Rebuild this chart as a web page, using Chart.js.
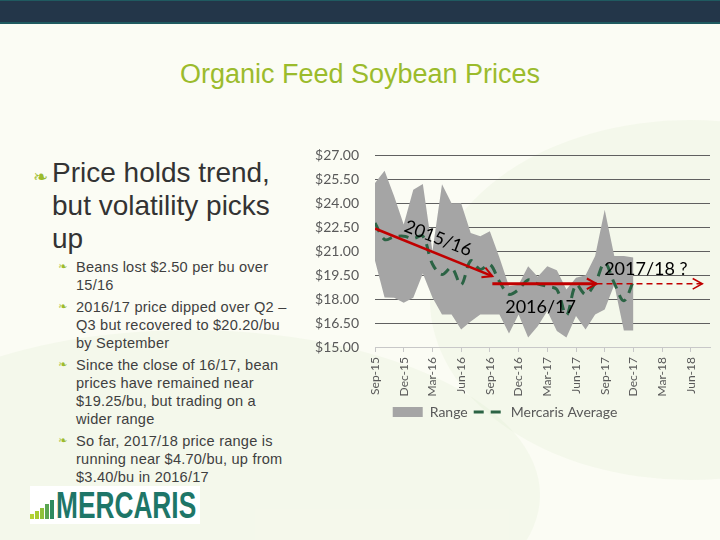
<!DOCTYPE html>
<html>
<head>
<meta charset="utf-8">
<script src="https://cdn.jsdelivr.net/npm/chart.js@4.4.0/dist/chart.umd.min.js"></script>
<style>
    body {
        margin: 0;
        width: 720px;
        height: 540px;
        overflow: hidden;
        position: relative;
        background: #fbfcf4;
        font-family: "Liberation Sans", Arial, sans-serif;
    }
    .swoosh {
        position: absolute;
        border-radius: 50%;
        background: rgba(214, 230, 190, 0.16);
    }
    .top-bar {
        position: absolute;
        left: 0; top: 0;
        width: 720px; height: 21px;
        background: #233649;
        border-top: 1px solid #1f5a60;
        border-bottom: 2px solid #1f5a60;
    }
    .title {
        position: absolute;
        left: 0; top: 59px;
        width: 720px;
        text-align: center;
        font-size: 27px;
        color: #9bbb2c;
    }
    .heading {
        position: absolute;
        left: 52px; top: 156px;
        width: 250px;
        font-size: 28px;
        line-height: 33px;
        color: #333333;
    }
    .bullet {
        position: absolute;
        color: #9bbb2c;
        font-family: "DejaVu Sans", sans-serif;
    }
    .points {
        position: absolute;
        left: 76px; top: 258px;
        width: 216px;
        font-size: 14.6px;
        line-height: 18px;
        letter-spacing: 0.2px;
        color: #3f3f3f;
    }
    .points p {
        margin: 0 0 4px 0;
        position: relative;
    }
    .points .bullet {
        left: -18px; top: 0;
        font-size: 11px;
    }
    .logo {
        position: absolute;
        left: 30px; top: 486px;
        width: 170px; height: 38px;
        background: #ffffff;
    }
    .logo .bar {
        position: absolute;
        bottom: 5px;
        width: 4px;
    }
    .logo .word {
        position: absolute;
        left: 26px; top: -1px;
        font-weight: bold;
        font-size: 36px;
        color: #1e7668;
        transform-origin: left top;
        transform: scaleX(0.73);
        white-space: nowrap;
    }
    .chart-box {
        position: absolute;
        left: 300px; top: 131px;
        width: 420px; height: 299px;
    }
</style>
</head>
<body>
<div class="swoosh" style="left:-160px; top:330px; width:700px; height:330px;"></div>
<div class="swoosh" style="left:430px; top:120px; width:520px; height:360px;"></div>
<div class="top-bar"></div>
<div class="title">Organic Feed Soybean Prices</div>

<div class="heading">
    <span class="bullet" style="left:-19px; top:4px; font-size:18px;">❧</span>
    Price holds trend, but volatility picks up
</div>

<div class="points">
    <p><span class="bullet">❧</span>Beans lost $2.50 per bu over 15/16</p>
    <p><span class="bullet">❧</span>2016/17 price dipped over Q2 – Q3 but recovered to $20.20/bu by September</p>
    <p><span class="bullet">❧</span>Since the close of 16/17, bean prices have remained near $19.25/bu, but trading on a wider range</p>
    <p><span class="bullet">❧</span>So far, 2017/18 price range is running near $4.70/bu, up from $3.40/bu in 2016/17</p>
</div>

<div class="logo">
    <div class="bar" style="left:0px; height:5px; background:#b5d334;"></div>
    <div class="bar" style="left:5px; height:8px; background:#a6cc30;"></div>
    <div class="bar" style="left:10px; height:11px; background:#8fc13a;"></div>
    <div class="bar" style="left:15px; height:15px; background:#5aa552;"></div>
    <div class="bar" style="left:20px; height:19px; background:#2f8a60;"></div>
    <div class="word">MERCARIS</div>
</div>

<div class="chart-box">
    <canvas id="soybean-chart"></canvas>
</div>

<script>
const months = ['Sep-15', 'Oct-15', 'Nov-15', 'Dec-15', 'Jan-16', 'Feb-16', 'Mar-16', 'Apr-16', 'May-16', 'Jun-16', 'Jul-16', 'Aug-16',
    'Sep-16', 'Oct-16', 'Nov-16', 'Dec-16', 'Jan-17', 'Feb-17', 'Mar-17', 'Apr-17', 'May-17', 'Jun-17', 'Jul-17', 'Aug-17',
    'Sep-17', 'Oct-17', 'Nov-17', 'Dec-17', 'Jan-18', 'Feb-18', 'Mar-18', 'Apr-18', 'May-18', 'Jun-18', 'Jul-18', 'Aug-18'];

// monthly range and average, Sep-15 .. Dec-17 ($/bu)
const rangeHigh = [25.27, 26.04, 24.44, 22.67, 24.85, 25.21, 21.0, 25.2, 24.0, 24.0, 22.14, 21.94, 22.25, 20.6,
    18.8, 18.9, 20.06, 19.4, 20.06, 19.8, 18.6, 19.33, 19.5, 20.7, 23.6, 20.7, 20.7, 20.6];
const rangeLow = [20.4, 18.1, 18.08, 17.77, 18.08, 19.6, 18.1, 17.04, 17.04, 16.1, 16.6, 17.04, 17.04, 17.04,
    15.84, 17.04, 15.6, 16.3, 17.25, 16.0, 15.6, 16.94, 16.1, 17.04, 17.35, 18.9, 16.04, 16.04];
const mercarisAverage = [22.77, 21.73, 21.9, 21.94, 21.8, 21.94, 20.2, 19.54, 19.96, 18.9, 20.4, 19.85, 20.17, 19.1,
    18.3, 18.6, 19.2, 18.95, 18.8, 18.6, 17.0, 18.9, 18.3, 19.0, 20.27, 19.0, 17.9, 19.13];

const priceTicks = [15, 16.5, 18, 19.5, 21, 22.5, 24, 25.5, 27];
const monthTicks = [0, 3, 6, 9, 12, 15, 18, 21, 24, 27, 30, 33];

// trend arrows: [month index, price]
const trend1516 = [[0, 22.42], [12.26, 19.44]];
const trend1617 = [[12.26, 18.96], [23.14, 18.96]];
const trend1718 = [[23.14, 18.96], [34.2, 18.96]];
const seasonLabels = ['2015/16', '2016/17', '2017/18 ?'];

function toPoints(values) {
    return values.map((v, i) => ({ x: i, y: v }));
}

function toXY(pairs) {
    return pairs.map((p) => ({ x: p[0], y: p[1] }));
}

const arrowHeads = {
    id: 'arrowHeads',
    afterDatasetsDraw(chart) {
        const ctx = chart.ctx;
        chart.data.datasets.forEach((ds, i) => {
            if (!ds.arrow) return;
            const pts = chart.getDatasetMeta(i).data;
            const a = pts[pts.length - 2];
            const b = pts[pts.length - 1];
            const ang = Math.atan2(b.y - a.y, b.x - a.x);
            ctx.save();
            ctx.strokeStyle = ds.borderColor;
            ctx.lineWidth = ds.headWidth;
            ctx.beginPath();
            ctx.moveTo(b.x - 11 * Math.cos(ang - 0.5), b.y - 11 * Math.sin(ang - 0.5));
            ctx.lineTo(b.x, b.y);
            ctx.lineTo(b.x - 11 * Math.cos(ang + 0.5), b.y - 11 * Math.sin(ang + 0.5));
            ctx.stroke();
            ctx.restore();
        });

        const x = chart.scales.x;
        const y = chart.scales.y;
        const spots = [
            { x: 6.6, y: 21.8, rot: 0.37 },
            { x: 17.3, y: 17.5, rot: 0 },
            { x: 28.3, y: 19.9, rot: 0 }
        ];
        ctx.save();
        ctx.fillStyle = '#000000';
        ctx.font = '18px Lato';
        ctx.textAlign = 'center';
        ctx.textBaseline = 'middle';
        seasonLabels.forEach((text, i) => {
            ctx.save();
            ctx.translate(x.getPixelForValue(spots[i].x), y.getPixelForValue(spots[i].y));
            ctx.rotate(spots[i].rot);
            ctx.fillText(text, 0, 0);
            ctx.restore();
        });
        ctx.restore();
    }
};

const GRAY = '#a5a5a5';
const GREEN = '#2b6344';
const RED = '#c00000';

new Chart(document.getElementById('soybean-chart').getContext('2d'), {
    type: 'line',
    data: {
        datasets: [
            {
                label: 'Range',
                data: toPoints(rangeHigh),
                borderWidth: 0,
                backgroundColor: GRAY,
                fill: '+1',
                pointRadius: 0,
                tension: 0,
                order: 10
            },
            {
                label: 'Range low',
                data: toPoints(rangeLow),
                borderWidth: 0,
                backgroundColor: GRAY,
                fill: false,
                pointRadius: 0,
                tension: 0,
                order: 10
            },
            {
                label: 'Mercaris Average',
                data: toPoints(mercarisAverage),
                borderColor: GREEN,
                borderWidth: 3,
                borderDash: [10, 7],
                fill: false,
                pointRadius: 0,
                tension: 0.35,
                order: 5
            },
            {
                label: 'trend 15/16',
                data: toXY(trend1516),
                borderColor: RED,
                borderWidth: 2.5,
                headWidth: 2,
                arrow: true,
                fill: false,
                pointRadius: 0,
                order: 1
            },
            {
                label: 'trend 16/17',
                data: toXY(trend1617),
                borderColor: RED,
                borderWidth: 3,
                headWidth: 2,
                arrow: true,
                fill: false,
                pointRadius: 0,
                order: 1
            },
            {
                label: 'trend 17/18',
                data: toXY(trend1718),
                borderColor: RED,
                borderWidth: 1.5,
                borderDash: [6, 4],
                headWidth: 1.5,
                arrow: true,
                fill: false,
                pointRadius: 0,
                order: 1
            }
        ]
    },
    options: {
        responsive: true,
        maintainAspectRatio: false,
        animation: false,
        layout: {
            padding: { top: 0, right: 10, bottom: 1, left: 0 }
        },
        scales: {
            x: {
                type: 'linear',
                min: 0,
                max: 35,
                afterBuildTicks: (scale) => {
                    scale.ticks = monthTicks.map((v) => ({ value: v }));
                },
                afterFit: (scale) => {
                    scale.height = 52;
                },
                grid: {
                    drawOnChartArea: false,
                    drawTicks: true,
                    tickLength: 5,
                    color: '#c8c8c8'
                },
                border: {
                    display: true,
                    color: '#c8c8c8'
                },
                ticks: {
                    autoSkip: false,
                    minRotation: 90,
                    maxRotation: 90,
                    padding: 5,
                    color: '#595959',
                    font: { family: 'Lato', size: 12 },
                    callback: (value) => months[value]
                }
            },
            y: {
                min: 15,
                max: 27,
                afterBuildTicks: (scale) => {
                    scale.ticks = priceTicks.map((v) => ({ value: v }));
                },
                afterFit: (scale) => {
                    scale.width = 75;
                },
                grid: {
                    drawTicks: false,
                    color: (ctx) => ctx.tick && ctx.tick.value === 15 ? 'rgba(0,0,0,0)' : '#606060',
                    lineWidth: 1
                },
                border: { display: false },
                ticks: {
                    padding: 16,
                    color: '#595959',
                    font: { family: 'Lato', size: 14 },
                    callback: (value) => '$' + value.toFixed(2)
                }
            }
        },
        plugins: {
            title: { display: false },
            tooltip: { enabled: false },
            legend: {
                display: true,
                position: 'bottom',
                labels: {
                    usePointStyle: true,
                    boxWidth: 30,
                    boxHeight: 10,
                    pointStyleWidth: 30,
                    padding: 6,
                    color: '#595959',
                    font: { family: 'Lato', size: 14 },
                    generateLabels: () => [
                        {
                            text: 'Range',
                            fillStyle: GRAY,
                            strokeStyle: GRAY,
                            lineWidth: 0,
                            pointStyle: 'rect',
                            fontColor: '#595959',
                            datasetIndex: 0
                        },
                        {
                            text: 'Mercaris Average',
                            fillStyle: 'rgba(0,0,0,0)',
                            strokeStyle: GREEN,
                            lineWidth: 3,
                            lineDash: [10, 7],
                            pointStyle: 'line',
                            fontColor: '#595959',
                            datasetIndex: 2
                        }
                    ]
                }
            }
        }
    },
    plugins: [arrowHeads]
});
</script>
</body>
</html>
